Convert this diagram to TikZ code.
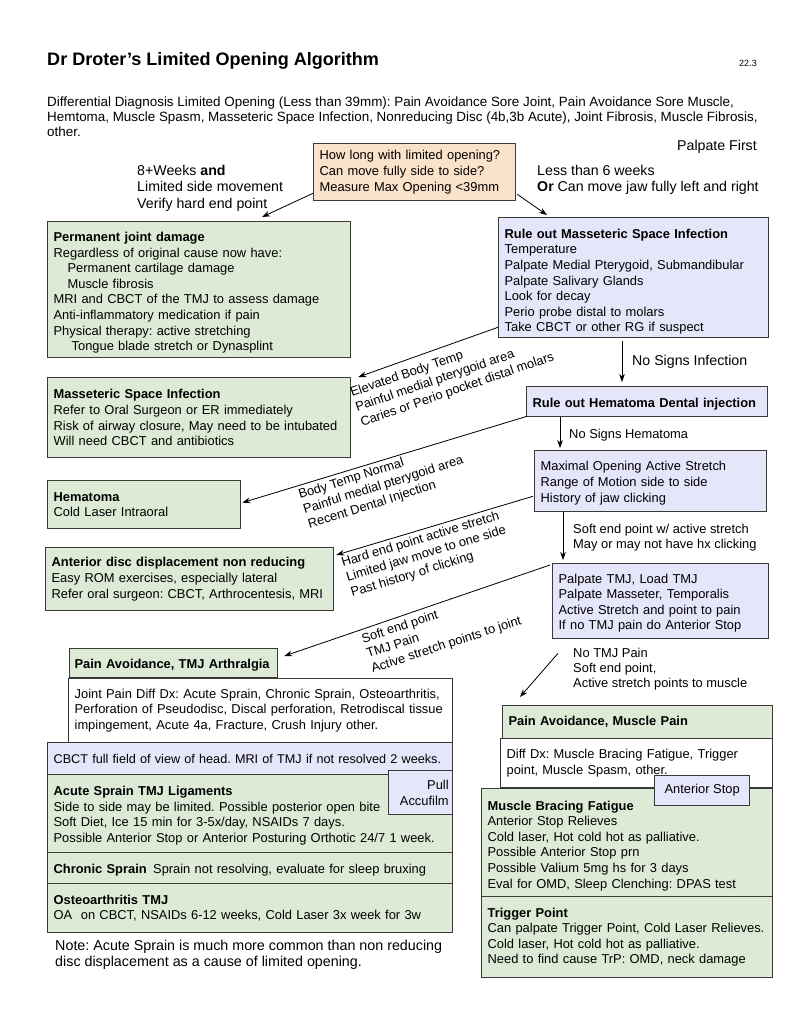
\documentclass[tikz,border=0pt]{standalone}
\usepackage{fontspec}
\setmainfont{Liberation Sans}
\usetikzlibrary{positioning, arrows.meta, calc}

\definecolor{boxgreen}{HTML}{DDEBD6}
\definecolor{boxblue}{HTML}{E6E6FA}
\definecolor{boxpeach}{HTML}{FBE2CA}
\definecolor{boxline}{HTML}{3A3A3A}

\frenchspacing
\hyphenpenalty=10000
\exhyphenpenalty=10000

\begin{document}
\begin{tikzpicture}[
        x=0.3mm, y=-0.3mm,
        font=\fontsize{11}{13.3}\selectfont,
        >={Stealth[length=2.4mm, width=1.7mm]},
        box/.style={draw=boxline, line width=1.1pt, anchor=north west, align=left, inner xsep=1.8mm, inner ysep=0pt},
        greenbox/.style={box, fill=boxgreen},
        bluebox/.style={box, fill=boxblue},
        whitebox/.style={box, fill=white},
        peachbox/.style={box, fill=boxpeach, font=\fontsize{11}{13.65}\selectfont},
        drop/.style={execute at begin node={\rule{0pt}{#1}}},
        flow/.style={->, line width=0.7pt},
        note/.style={inner sep=0pt, align=left},
        bignote/.style={note, font=\fontsize{12.1}{14.1}\selectfont},
        slanted/.style={note, anchor=north west, rotate=#1}
    ]

    \path[use as bounding box, fill=white] (0,0) rectangle (791,1024);

    % --- Title and differential diagnosis ---
    \node[note, anchor=base west, font=\fontsize{15.4}{18}\selectfont\bfseries] (title) at (47,65) {Dr Droter’s Limited Opening Algorithm};
    \node[note, anchor=base east, font=\fontsize{7.7}{9}\selectfont] (version) at (757,66) {22.3};
    \node[note, anchor=north west, font=\fontsize{11.45}{12.8}\selectfont] (intro) at (47,96.3) {Differential Diagnosis Limited Opening (Less than 39mm): Pain Avoidance Sore Joint, Pain Avoidance Sore Muscle,\\Hemtoma, Muscle Spasm, Masseteric Space Infection, Nonreducing Disc (4b,3b Acute), Joint Fibrosis, Muscle Fibrosis,\\other.};
    \node[bignote, anchor=base east] (palpate) at (757,150) {Palpate First};

    % --- Start question ---
    \node[peachbox, text width=57mm, minimum height=17.1mm] (start) at (313,143) {How long with limited opening?\\Can move fully side to side?\\Measure Max Opening <39mm};
    \node[bignote, anchor=north west] (long) at (137,164.6) {8+Weeks \textbf{and}\\Limited side movement\\Verify hard end point};
    \node[bignote, anchor=north west] (short) at (537,164.6) {Less than 6 weeks\\\textbf{Or} Can move jaw fully left and right};

    % --- Left column: outcomes ---
    \node[greenbox, drop=4.65mm, text width=87.3mm, minimum height=40.8mm] (pjd) at (47,221) {\textbf{Permanent joint damage}\\Regardless of original cause now have:\\\hspace*{4.2mm}Permanent cartilage damage\\\hspace*{4.2mm}Muscle fibrosis\\MRI and CBCT of the TMJ to assess damage\\Anti-inflammatory medication if pain\\Physical therapy: active stretching\\\hspace*{5.4mm}Tongue blade stretch or Dynasplint};
    \node[greenbox, text width=87.3mm, minimum height=24mm] (msi) at (47,377) {\textbf{Masseteric Space Infection}\\Refer to Oral Surgeon or ER immediately\\Risk of airway closure, May need to be intubated\\Will need CBCT and antibiotics};
    \node[greenbox, text width=54.3mm, minimum height=14.4mm] (hem) at (47,480) {\textbf{Hematoma}\\Cold Laser Intraoral};
    \node[greenbox, text width=82.8mm, minimum height=18.9mm] (add) at (45,547) {\textbf{Anterior disc displacement non reducing}\\Easy ROM exercises, especially lateral\\Refer oral surgeon: CBCT, Arthrocentesis, MRI};

    % --- Right column: rule outs ---
    \node[bluebox, drop=5.25mm, text width=77.4mm, minimum height=36mm] (rom) at (498,217) {\textbf{Rule out Masseteric Space Infection}\\Temperature\\Palpate Medial Pterygoid, Submandibular\\Palpate Salivary Glands\\Look for decay\\Perio probe distal to molars\\Take CBCT or other RG if suspect};
    \node[bluebox, drop=4.05mm, text width=68.7mm, minimum height=9mm] (roh) at (526,386) {\textbf{Rule out Hematoma Dental injection}};
    \node[bluebox, drop=4.05mm, text width=66mm, minimum height=18.3mm] (mos) at (534,450) {Maximal Opening Active Stretch\\Range of Motion side to side\\History of jaw clicking};
    \node[bluebox, drop=4.05mm, text width=61.2mm, minimum height=22.5mm] (ptmj) at (552,563) {Palpate TMJ, Load TMJ\\Palpate Masseter, Temporalis\\Active Stretch and point to pain\\If no TMJ pain do Anterior Stop};

    % --- Joint pain stack ---
    \node[greenbox, drop=4.05mm, inner xsep=1.5mm, text width=59.4mm, minimum height=8.7mm] (pat) at (69,648) {\textbf{Pain Avoidance, TMJ Arthralgia}};
    \node[whitebox, text width=111.6mm, minimum height=19.2mm] (jpd) at (68,678) {Joint Pain Diff Dx: Acute Sprain, Chronic Sprain, Osteoarthritis,\\Perforation of Pseudodisc, Discal perforation, Retrodiscal tissue\\impingement, Acute 4a, Fracture, Crush Injury other.};
    \node[bluebox, font=\fontsize{10.8}{13}\selectfont, text width=117.9mm, minimum height=9.6mm] (cbct) at (47,742) {CBCT full field of view of head. MRI of TMJ if not resolved 2 weeks.};
    \node[greenbox, drop=4.05mm, text width=117.9mm, minimum height=23.4mm] (acs) at (47,774) {\textbf{Acute Sprain TMJ Ligaments}\\Side to side may be limited. Possible posterior open bite\\Soft Diet, Ice 15 min for 3-5x/day, NSAIDs 7 days.\\Possible Anterior Stop or Anterior Posturing Orthotic 24/7 1 week.};
    \node[bluebox, align=right, inner xsep=1.2mm, text width=16.8mm, minimum height=13.2mm] (pull) at (388,770) {Pull\\Accufilm};
    \node[greenbox, drop=4.05mm, text width=117.9mm, minimum height=9.3mm] (chr) at (47,852) {\textbf{Chronic Sprain}\enspace Sprain not resolving, evaluate for sleep bruxing};
    \node[greenbox, text width=117.9mm, minimum height=14.7mm] (oa) at (47,883) {\textbf{Osteoarthritis TMJ}\\OA\ \ on CBCT, NSAIDs 6-12 weeks, Cold Laser 3x week for 3w};
    \node[bignote, anchor=north west, font=\fontsize{12.2}{13.65}\selectfont] (footnote) at (55,939.6) {Note: Acute Sprain is much more common than non reducing\\disc displacement as a cause of limited opening.};

    % --- Muscle pain stack ---
    \node[greenbox, text width=77.4mm, minimum height=9.9mm] (pam) at (502,705) {\textbf{Pain Avoidance, Muscle Pain}};
    \node[whitebox, text width=78mm, minimum height=14.7mm] (ddx) at (500,738) {Diff Dx: Muscle Bracing Fatigue, Trigger\\point, Muscle Spasm, other.};
    \node[greenbox, drop=4.65mm, text width=83.7mm, minimum height=32.4mm] (mbf) at (481,788) {\textbf{Muscle Bracing Fatigue}\\Anterior Stop Relieves\\Cold laser, Hot cold hot as palliative.\\Possible Anterior Stop prn\\Possible Valium 5mg hs for 3 days\\Eval for OMD, Sleep Clenching: DPAS test};
    \node[bluebox, align=center, minimum width=28.5mm, minimum height=9mm] (ast) at (654,775) {Anterior Stop};
    \node[greenbox, text width=83.7mm, minimum height=24.3mm] (trp) at (481,896) {\textbf{Trigger Point}\\Can palpate Trigger Point, Cold Laser Relieves.\\Cold laser, Hot cold hot as palliative.\\Need to find cause TrP: OMD, neck damage\\[2mm]};

    % --- Connectors ---
    \draw[flow] ($(start.south west)+(0,-8)$) -- ($(pjd.north west)+(215,-4)$);
    \draw[flow] ($(start.south east)+(1,-7)$) -- ($(rom.north west)+(49,-2)$);
    \draw[flow] ($(rom.south west)+(0,-11)$) -- ($(msi.north east)+(7,0)$);
    \draw[flow] ($(rom.south west)+(124,3)$) -- ($(roh.north west)+(96,-4)$);
    \draw[flow] ($(roh.south west)+(1,-1)$) -- ($(hem.east)+(1,-2)$);
    \draw[flow] ($(roh.south west)+(34,0)$) -- ($(mos.north west)+(26,-2)$);
    \draw[flow] ($(mos.south west)+(-1,-16)$) -- ($(add.north east)+(2,8)$);
    \draw[flow] ($(mos.south west)+(29,0)$) -- ($(ptmj.north west)+(11,-3)$);
    \draw[flow] ($(ptmj.north west)+(-2,2)$) -- ($(pat.north east)+(6,8)$);
    \draw[flow] ($(ptmj.south west)+(6,14)$) -- ($(pam.north west)+(18,-8)$);

    % --- Connector labels ---
    \node[note, anchor=base west, font=\fontsize{12.1}{14}\selectfont] (nosinf) at (632,365) {No Signs Infection};
    \node[note, anchor=base west] (noshem) at (569,438) {No Signs Hematoma};
    \node[note, anchor=north west, font=\fontsize{11}{12.8}\selectfont] (softend) at (573,524.3) {Soft end point w/ active stretch\\May or may not have hx clicking};
    \node[note, anchor=north west, font=\fontsize{11}{12.8}\selectfont] (notmj) at (573,648.3) {No TMJ Pain\\Soft end point,\\Active stretch points to muscle};
    \node[slanted=19] (infsigns) at (348.9,388) {Elevated Body Temp\\Painful medial pterygoid area\\Caries or Perio pocket distal molars};
    \node[slanted=17.5] (hemsigns) at (297.1,489.9) {Body Temp Normal\\Painful medial pterygoid area\\Recent Dental Injection};
    \node[slanted=17] (discsigns) at (340.2,557.9) {Hard end point active stretch\\Limited jaw move to one side\\Past history of clicking};
    \node[slanted=18] (jointsigns) at (360.1,634) {Soft end point\\TMJ Pain\\Active stretch points to joint};

\end{tikzpicture}
\end{document}
